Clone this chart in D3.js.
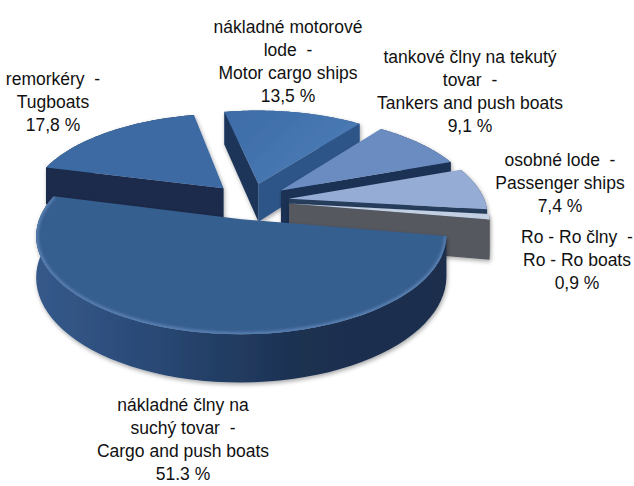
<!DOCTYPE html>
<html>
<head>
<meta charset="utf-8">
<script src="https://cdn.jsdelivr.net/npm/d3@7"></script>
<style>
  html, body { margin: 0; padding: 0; background: #fff; }
  text { font-family: "Liberation Sans", Arial, sans-serif; font-size: 17.5px; fill: #111; white-space: pre; }
</style>
</head>
<body>
<div id="chart"></div>
<script>
const categories = ['Motor cargo ships', 'Tankers and push boats', 'Passenger ships', 'Ro - Ro boats', 'Cargo and push boats', 'Tugboats'];
const shares = [13.5, 9.1, 7.4, 0.9, 51.3, 17.8];
const topColors = ['#4373ae', '#6a8cc1', '#95acd4', '#c3cfe3', '#365e8e', '#3c6ba3'];
const endWallColors = ['#2f5587', '#1c3154', '#283c5c', '#54585f', '#1b3050', '#1a2c4b'];
const startWallColors = ['#1d3558', '#1c3154', '#283c5c', '#54585f', '#1b3050', '#1a2c4b'];
const labels = [
  ['nákladné motorové', 'lode  -', 'Motor cargo ships', '13,5 %'],
  ['tankové člny na tekutý', 'tovar  -', 'Tankers and push boats', '9,1 %'],
  ['osobné lode  -', 'Passenger ships', '7,4 %'],
  ['Ro - Ro člny  -', 'Ro - Ro boats', '0,9 %'],
  ['nákladné člny na', 'suchý tovar  -', 'Cargo and push boats', '51.3 %'],
  ['remorkéry  -', 'Tugboats', '17,8 %']
];
const labelX = [288, 470, 560, 577, 183, 53];
const labelY = [33, 63, 166, 243, 411, 85];
const paintOrder = [0, 5, 1, 2, 3, 4];

const width = 634, height = 486;
const cx = 250, cy = 201, radius = 196, tilt = 0.46, persp = 0.16, explode = 0.2, depth = 39;

// simple perspective: far side of the disc shrinks, near side grows
function project(x, y, z) {
  let w = 1 + persp * y;
  return [cx + radius * x / w, cy + (-radius * tilt * y + z) / w];
}

let svg = d3.select('#chart').append('svg')
  .attr('width', width)
  .attr('height', height);

let defs = svg.append('defs');
let shadow = defs.append('filter').attr('id', 'shadow')
  .attr('x', '-10%').attr('y', '-10%').attr('width', '120%').attr('height', '125%');
shadow.append('feDropShadow')
  .attr('dx', 1).attr('dy', 2).attr('stdDeviation', 2.2)
  .attr('flood-color', '#000').attr('flood-opacity', 0.35);
defs.append('filter').attr('id', 'soft').append('feGaussianBlur').attr('stdDeviation', 1.6);

let sideGrad = defs.append('linearGradient').attr('id', 'sideGrad');
sideGrad.append('stop').attr('offset', '0%').attr('stop-color', '#35598a');
sideGrad.append('stop').attr('offset', '22%').attr('stop-color', '#2c4d7b');
sideGrad.append('stop').attr('offset', '65%').attr('stop-color', '#1b3050');
sideGrad.append('stop').attr('offset', '100%').attr('stop-color', '#1a2d4c');

let motorGrad = defs.append('linearGradient').attr('id', 'motorGrad')
  .attr('x1', '0%').attr('y1', '0%').attr('x2', '100%').attr('y2', '60%');
motorGrad.append('stop').attr('offset', '0%').attr('stop-color', '#3d6ba6');
motorGrad.append('stop').attr('offset', '100%').attr('stop-color', '#4b7cb6');

let pie = d3.pie().sort(null)
  .startAngle(-11.5 * Math.PI / 180)
  .endAngle(348.5 * Math.PI / 180);
let arcs = pie(shares);
let line = d3.line();

function drawSlice(i) {
  let a = arcs[i];
  let mid = (a.startAngle + a.endAngle) / 2;
  let ox = explode * Math.sin(mid), oy = explode * Math.cos(mid);
  let steps = d3.range(0, 61).map(k => a.startAngle + (a.endAngle - a.startAngle) * k / 60);
  let rim = z => steps.map(t => project(ox + Math.sin(t), oy + Math.cos(t), z));
  let apex = z => project(ox, oy, z);

  let g = svg.append('g').attr('class', 'slice').attr('filter', 'url(#shadow)');
  let topRim = rim(0), lowRim = rim(depth);

  // outer wall
  g.append('path')
    .attr('d', line(topRim.concat(lowRim.slice().reverse())) + 'Z')
    .attr('fill', i === 4 ? 'url(#sideGrad)' : endWallColors[i]);

  // the two radial walls, only when they face the viewer
  let startWall = [apex(0), topRim[0], lowRim[0], apex(depth)];
  let endWall = [topRim[60], apex(0), apex(depth), lowRim[60]];
  if (d3.polygonArea(startWall) > 0) {
    g.append('path').attr('d', line(startWall) + 'Z').attr('fill', startWallColors[i]);
  }
  if (d3.polygonArea(endWall) > 0) {
    g.append('path').attr('d', line(endWall) + 'Z').attr('fill', endWallColors[i]);
  }

  let topPath = line([apex(0)].concat(topRim)) + 'Z';
  g.append('path')
    .attr('d', topPath)
    .attr('fill', i === 0 ? 'url(#motorGrad)' : topColors[i]);

  // bevel glow on the large slice
  if (i === 4) {
    defs.append('clipPath').attr('id', 'topClip').append('path').attr('d', topPath);
    g.append('path')
      .attr('d', line(topRim))
      .attr('fill', 'none')
      .attr('stroke', '#5c83b6')
      .attr('stroke-width', 4)
      .attr('filter', 'url(#soft)')
      .attr('clip-path', 'url(#topClip)');
  }
}

paintOrder.forEach(drawSlice);

labels.forEach((lines, i) => {
  let t = svg.append('text').attr('text-anchor', 'middle');
  lines.forEach((s, k) => {
    t.append('tspan')
      .attr('x', labelX[i])
      .attr('y', labelY[i] + k * 23)
      .text(s);
  });
});
</script>
</body>
</html>
